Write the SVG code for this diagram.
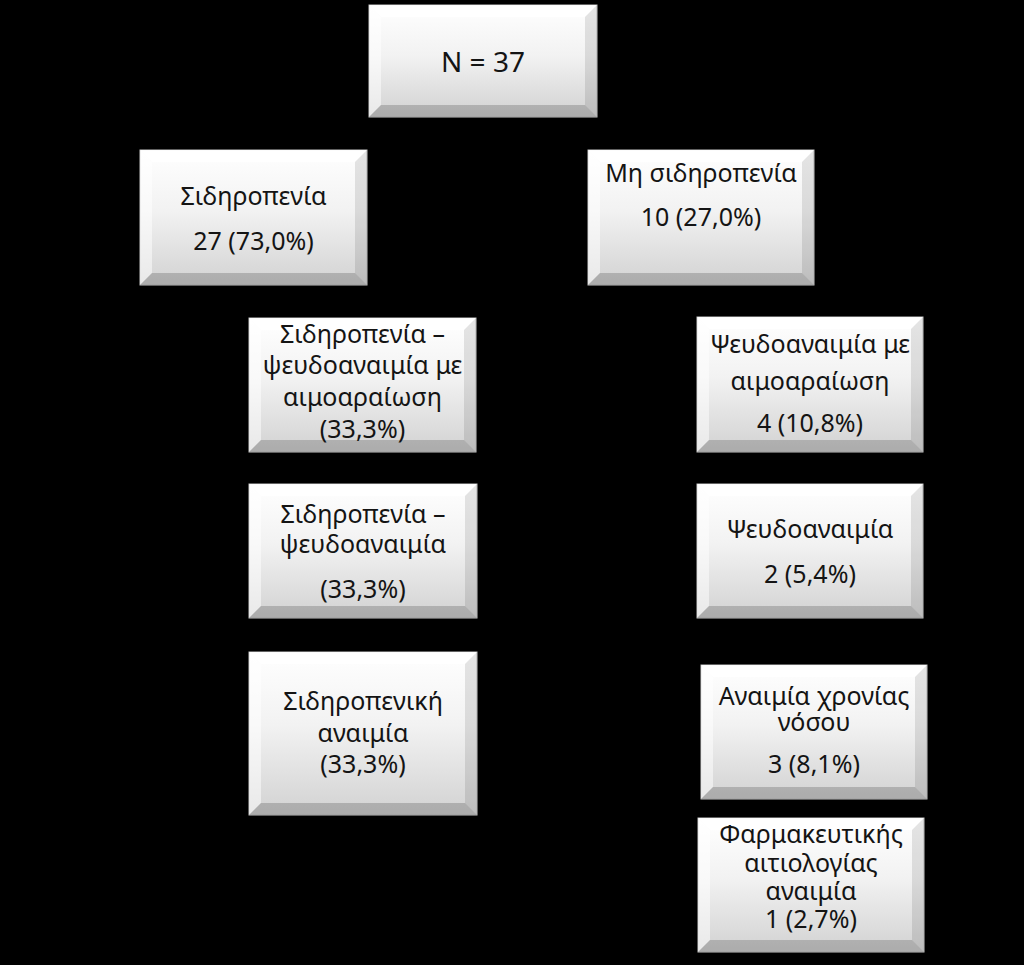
<svg xmlns="http://www.w3.org/2000/svg" width="1024" height="965" viewBox="0 0 1024 965">
<defs>
<linearGradient id="face" x1="0" y1="0" x2="0" y2="1">
<stop offset="0" stop-color="#ffffff"/>
<stop offset="0.45" stop-color="#f2f2f2"/>
<stop offset="1" stop-color="#d2d2d2"/>
</linearGradient>
</defs>
<style>
.face{fill:url(#face);stroke:#c4c4c4;stroke-width:1}
.bt{fill:#ffffff;fill-opacity:0.9}
.bl{fill:#ffffff;fill-opacity:0.5}
.br{fill:#000000;fill-opacity:0.1}
.bb{fill:#000000;fill-opacity:0.18}
text{font-family:"Noto Sans","Open Sans","DejaVu Sans",sans-serif;font-size:25px;fill:#141414;text-anchor:middle}
.big{font-size:28px}
</style>
<rect x="0" y="0" width="1024" height="965" fill="#000000"/>
<g id="connectors"></g>

<g id="n1">
<rect class="face" x="369" y="5" width="228" height="112"/>
<polygon class="bt" points="369,5 597,5 585,17 381,17"/>
<polygon class="bl" points="369,5 381,17 381,105 369,117"/>
<polygon class="br" points="597,5 597,117 585,105 585,17"/>
<polygon class="bb" points="369,117 381,105 585,105 597,117"/>
<text class="big" x="483" y="72">N = 37</text>
</g>

<g id="n2">
<rect class="face" x="140" y="150" width="227" height="135"/>
<polygon class="bt" points="140,150 367,150 355,162 152,162"/>
<polygon class="bl" points="140,150 152,162 152,273 140,285"/>
<polygon class="br" points="367,150 367,285 355,273 355,162"/>
<polygon class="bb" points="140,285 152,273 355,273 367,285"/>
<text x="253.5" y="205">Σιδηροπενία</text>
<text x="253.5" y="250">27 (73,0%)</text>
</g>

<g id="n3">
<rect class="face" x="588" y="150" width="226" height="135"/>
<polygon class="bt" points="588,150 814,150 802,162 600,162"/>
<polygon class="bl" points="588,150 600,162 600,273 588,285"/>
<polygon class="br" points="814,150 814,285 802,273 802,162"/>
<polygon class="bb" points="588,285 600,273 802,273 814,285"/>
<text x="701" y="182">Μη σιδηροπενία</text>
<text x="701" y="226">10 (27,0%)</text>
</g>

<g id="n4">
<rect class="face" x="249" y="318" width="227" height="134"/>
<polygon class="bt" points="249,318 476,318 464,330 261,330"/>
<polygon class="bl" points="249,318 261,330 261,440 249,452"/>
<polygon class="br" points="476,318 476,452 464,440 464,330"/>
<polygon class="bb" points="249,452 261,440 464,440 476,452"/>
<text x="362.5" y="343">Σιδηροπενία –</text>
<text x="362.5" y="374">ψευδοαναιμία με</text>
<text x="362.5" y="406">αιμοαραίωση</text>
<text x="362.5" y="438">(33,3%)</text>
</g>

<g id="n5">
<rect class="face" x="697" y="317" width="226" height="135"/>
<polygon class="bt" points="697,317 923,317 911,329 709,329"/>
<polygon class="bl" points="697,317 709,329 709,440 697,452"/>
<polygon class="br" points="923,317 923,452 911,440 911,329"/>
<polygon class="bb" points="697,452 709,440 911,440 923,452"/>
<text x="810" y="353">Ψευδοαναιμία με</text>
<text x="810" y="390">αιμοαραίωση</text>
<text x="810" y="432">4 (10,8%)</text>
</g>

<g id="n6">
<rect class="face" x="249" y="484" width="228" height="134"/>
<polygon class="bt" points="249,484 477,484 465,496 261,496"/>
<polygon class="bl" points="249,484 261,496 261,606 249,618"/>
<polygon class="br" points="477,484 477,618 465,606 465,496"/>
<polygon class="bb" points="249,618 261,606 465,606 477,618"/>
<text x="363" y="523">Σιδηροπενία –</text>
<text x="363" y="553">ψευδοαναιμία</text>
<text x="363" y="598">(33,3%)</text>
</g>

<g id="n7">
<rect class="face" x="697" y="484" width="226" height="134"/>
<polygon class="bt" points="697,484 923,484 911,496 709,496"/>
<polygon class="bl" points="697,484 709,496 709,606 697,618"/>
<polygon class="br" points="923,484 923,618 911,606 911,496"/>
<polygon class="bb" points="697,618 709,606 911,606 923,618"/>
<text x="810" y="538">Ψευδοαναιμία</text>
<text x="810" y="583">2 (5,4%)</text>
</g>

<g id="n8">
<rect class="face" x="249" y="652" width="228" height="163"/>
<polygon class="bt" points="249,652 477,652 465,664 261,664"/>
<polygon class="bl" points="249,652 261,664 261,803 249,815"/>
<polygon class="br" points="477,652 477,815 465,803 465,664"/>
<polygon class="bb" points="249,815 261,803 465,803 477,815"/>
<text x="363" y="710">Σιδηροπενική</text>
<text x="363" y="742">αναιμία</text>
<text x="363" y="773">(33,3%)</text>
</g>

<g id="n9">
<rect class="face" x="701" y="665" width="226" height="134"/>
<polygon class="bt" points="701,665 927,665 915,677 713,677"/>
<polygon class="bl" points="701,665 713,677 713,787 701,799"/>
<polygon class="br" points="927,665 927,799 915,787 915,677"/>
<polygon class="bb" points="701,799 713,787 915,787 927,799"/>
<text x="814" y="705">Αναιμία χρονίας</text>
<text x="814" y="731">νόσου</text>
<text x="814" y="773">3 (8,1%)</text>
</g>

<g id="n10">
<rect class="face" x="698" y="818" width="226" height="134"/>
<polygon class="bt" points="698,818 924,818 912,830 710,830"/>
<polygon class="bl" points="698,818 710,830 710,940 698,952"/>
<polygon class="br" points="924,818 924,952 912,940 912,830"/>
<polygon class="bb" points="698,952 710,940 912,940 924,952"/>
<text x="811" y="843">Φαρμακευτικής</text>
<text x="811" y="872">αιτιολογίας</text>
<text x="811" y="900">αναιμία</text>
<text x="811" y="928">1 (2,7%)</text>
</g>
</svg>
